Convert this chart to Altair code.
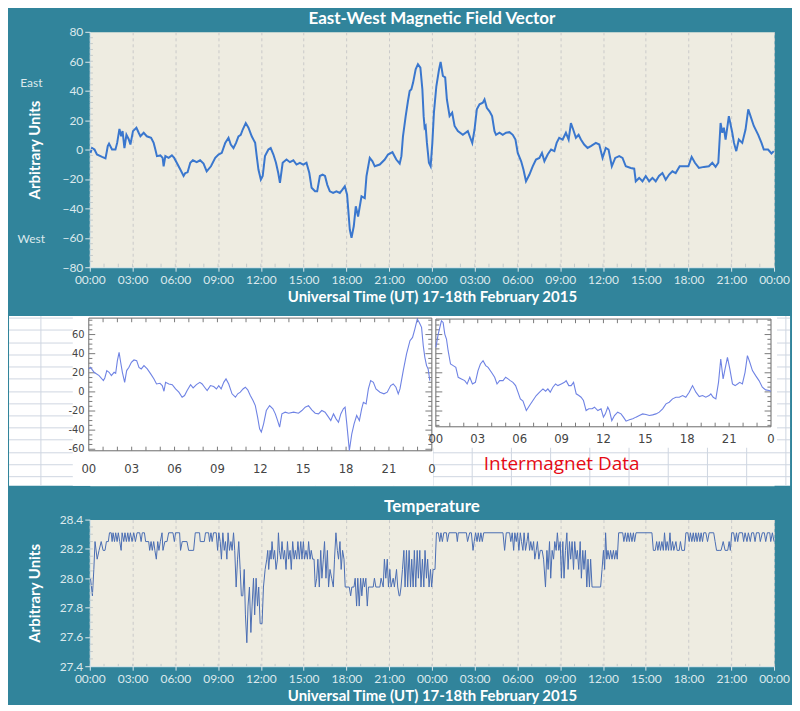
import altair as alt
import pandas as pd

# ------------------------------------------------------------------ data
# East-West magnetic field (hours from 00:00 UT 17 Feb, arbitrary units)
mag_day17 = [
    (0.05, -2.3), (0.16, 1), (0.33, 0), (0.5, -3.4), (0.86, -5), (1.1, -6), (1.2, -1), (1.26, 2.3),
    (1.35, 4), (1.56, 0), (1.8, 0), (1.92, 4.5), (2.08, 14), (2.2, 9), (2.3, 12.5), (2.43, 1),
    (2.57, 10), (2.73, 7), (2.85, 3.4), (3.03, 12.5), (3.27, 14.8), (3.43, 11.4), (3.55, 9),
    (3.78, 11.4), (4.0, 9), (4.3, 8), (4.48, 4.5), (4.6, 0), (4.71, -4.5), (4.95, -4), (5.11, -5.7),
    (5.18, -11.4), (5.3, -4.5), (5.53, -5.7), (5.76, -4), (5.92, -5.7), (6.1, -9), (6.35, -13.6),
    (6.58, -18), (6.7, -16), (6.86, -15.5), (7.05, -9), (7.23, -7.3), (7.5, -8.6), (7.74, -7.3),
    (7.98, -9.5), (8.2, -14.8), (8.5, -11.4), (8.8, -5.7), (9.03, -3.4), (9.26, -2.3), (9.5, 4.5),
    (9.73, 8), (9.89, 3.4), (10.08, 1), (10.26, 4.5), (10.43, 9), (10.59, 10), (10.73, 13.6),
    (10.94, 18), (11.13, 14.8), (11.36, 9), (11.6, 4.5), (11.71, -4.5), (11.83, -13.6), (12.0, -20.5),
    (12.13, -18), (12.29, -4.5), (12.53, 0), (12.69, 1), (12.88, -3.4), (13.06, -9), (13.22, -16),
    (13.34, -22.7), (13.53, -9), (13.8, -6.8), (14.04, -8.6), (14.28, -7.3), (14.5, -10.2),
    (14.74, -9), (14.97, -10.2), (15.2, -9), (15.4, -16), (15.56, -26), (15.8, -28.4), (15.95, -28.4),
    (16.14, -18), (16.33, -17), (16.5, -18), (16.66, -24), (16.84, -28.4), (17.07, -29.5),
    (17.3, -28.4), (17.54, -29.5), (17.72, -27.3), (17.89, -25), (18.05, -30.7), (18.24, -54.5),
    (18.36, -60), (18.52, -52), (18.66, -38.6), (18.82, -45.5), (19.06, -31.8), (19.29, -33),
    (19.41, -18), (19.64, -5.7), (19.83, -8), (19.99, -11.4), (20.34, -10.2), (20.69, -6.8),
    (20.92, -3.4), (21.23, -1.8), (21.5, -6.8), (21.74, -9.5), (21.86, -4.5), (21.97, 9),
    (22.16, 22.7), (22.32, 33), (22.44, 39.8), (22.56, 41), (22.68, 45.5), (22.86, 54.5),
    (23.02, 58), (23.19, 55.7), (23.33, 41), (23.42, 22.7), (23.49, 14.8), (23.56, 15.9),
    (23.65, 4.5), (23.79, -9), (23.91, -11.4),
]
mag_day18 = [
    (24.03, 4.5), (24.14, 25), (24.31, 43), (24.5, 54.5), (24.61, 59.5), (24.77, 50), (24.93, 49),
    (25.05, 34), (25.24, 22.7), (25.42, 25), (25.59, 16), (25.82, 12.5), (26.17, 10), (26.52, 12.5),
    (26.69, 8), (26.83, 4.5), (26.99, 13.6), (27.15, 27.3), (27.34, 30.7), (27.57, 31.8),
    (27.69, 34), (27.85, 28.4), (28.04, 26), (28.22, 22.7), (28.39, 12.5), (28.5, 10),
    (28.74, 11.4), (28.97, 10), (29.2, 11.4), (29.44, 11.8), (29.67, 10), (29.86, 6.8),
    (30.02, -2.3), (30.26, -8), (30.42, -13.6), (30.6, -21.6), (30.84, -17), (31.07, -11.4),
    (31.3, -6.8), (31.54, -5.7), (31.72, -2.3), (31.89, -8), (32.12, -3.4), (32.36, 0),
    (32.59, -1.1), (32.75, 4.5), (32.93, 8), (33.17, 6.8), (33.4, 11.4), (33.59, 6.8), (33.75, 18),
    (33.91, 13.6), (34.1, 8), (34.29, 10), (34.45, 6.8), (34.68, 3.4), (34.92, 1.1), (35.15, 2.3),
    (35.5, 4.5), (35.74, 3.4), (35.97, -5.7), (36.2, 1.1), (36.39, 0), (36.62, -11.4),
    (36.86, -5.7), (37.14, -4.5), (37.37, -5.7), (37.6, -11.4), (37.95, -12.5), (38.19, -13),
    (38.3, -21.6), (38.54, -19.3), (38.77, -21.6), (39.0, -18), (39.24, -21.6), (39.47, -19.3),
    (39.7, -21.6), (39.93, -18), (40.17, -16), (40.4, -20.5), (40.64, -17), (40.87, -14.8),
    (41.1, -16), (41.38, -11.4), (41.68, -11.4), (41.99, -11.4), (42.22, -5), (42.45, -9),
    (42.73, -12.5), (43.08, -11.8), (43.43, -11.4), (43.67, -9), (43.9, -11.8), (44.09, -9),
    (44.25, 18), (44.37, 11.4), (44.48, 14.8), (44.6, 6.8), (44.83, 22.7), (45.07, 11.4),
    (45.19, 4.5), (45.35, -1.1), (45.53, 6.8), (45.77, 4.5), (46.0, 13.6), (46.19, 27.3),
    (46.35, 22.7), (46.58, 16), (46.89, 10), (47.12, 4.5), (47.28, 0), (47.58, 0), (47.82, -2.7),
    (47.98, -1.1),
]

# Temperature (minutes from 00:00 UT 17 Feb, value)
temp_day17 = [
    (3, 28.00), (7, 27.94), (11, 27.88), (17, 28.06), (22, 28.25), (31, 28.13), (39, 28.19),
    (48, 28.25), (56, 28.19), (64, 28.19), (70, 28.25), (78, 28.25), (83, 28.31), (90, 28.31),
    (94, 28.25), (98, 28.31), (104, 28.25), (109, 28.31), (115, 28.25), (120, 28.31), (126, 28.25),
    (132, 28.19), (136, 28.31), (143, 28.25), (148, 28.31), (154, 28.25), (160, 28.31),
    (165, 28.25), (171, 28.31), (178, 28.25), (185, 28.31), (192, 28.25), (199, 28.31),
    (210, 28.31), (216, 28.25), (221, 28.31), (230, 28.31), (235, 28.25), (248, 28.25),
    (252, 28.19), (258, 28.25), (263, 28.19), (269, 28.25), (274, 28.19), (280, 28.13),
    (286, 28.25), (291, 28.19), (297, 28.25), (304, 28.31), (308, 28.19), (316, 28.25),
    (325, 28.25), (332, 28.31), (350, 28.31), (356, 28.25), (361, 28.31), (378, 28.31),
    (382, 28.19), (389, 28.25), (409, 28.25), (416, 28.19), (437, 28.19), (444, 28.31),
    (462, 28.31), (465, 28.25), (482, 28.25), (487, 28.31), (500, 28.31), (504, 28.25),
    (510, 28.31), (515, 28.25), (521, 28.31), (532, 28.31), (538, 28.19), (543, 28.31),
    (549, 28.25), (554, 28.13), (560, 28.31), (566, 28.19), (571, 28.25), (577, 28.13),
    (582, 28.31), (588, 28.19), (594, 28.25), (599, 28.19), (605, 28.31), (610, 28.19),
    (616, 27.94), (622, 28.13), (627, 28.25), (633, 28.06), (638, 27.88), (644, 27.88),
    (650, 28.06), (655, 27.75), (661, 27.56), (666, 27.81), (672, 27.94), (678, 27.63),
    (683, 27.81), (689, 28.00), (694, 27.75), (700, 28.00), (706, 27.81), (711, 27.94),
    (717, 27.69), (725, 27.69), (731, 27.94), (738, 28.06), (745, 28.13), (749, 28.19),
    (753, 28.06), (759, 28.19), (763, 28.13), (767, 28.25), (773, 28.13), (778, 28.19),
    (784, 28.06), (790, 28.13), (794, 28.31), (798, 28.19), (804, 28.13), (809, 28.25),
    (815, 28.13), (820, 28.19), (826, 28.06), (832, 28.25), (837, 28.13), (843, 28.19),
    (848, 28.06), (854, 28.25), (860, 28.13), (865, 28.19), (871, 28.13), (876, 28.25),
    (882, 28.13), (888, 28.25), (893, 28.13), (899, 28.25), (904, 28.13), (910, 28.19),
    (916, 28.13), (921, 28.25), (927, 28.13), (932, 28.19), (938, 28.13), (944, 28.13),
    (949, 27.94), (955, 28.00), (960, 28.13), (966, 27.94), (972, 28.19), (977, 28.00),
    (983, 28.13), (988, 28.25), (994, 28.00), (1000, 28.19), (1005, 27.94), (1011, 28.06),
    (1018, 28.00), (1025, 27.94), (1030, 28.13), (1036, 28.31), (1042, 28.19), (1047, 28.13),
    (1053, 28.25), (1058, 28.06), (1064, 28.19), (1070, 28.13), (1075, 27.94), (1092, 27.94),
    (1098, 27.88), (1103, 27.94), (1112, 27.94), (1117, 28.00), (1123, 27.81), (1128, 28.00),
    (1134, 27.81), (1140, 28.00), (1145, 27.88), (1151, 28.00), (1156, 27.94), (1162, 28.00),
    (1168, 27.81), (1173, 27.94), (1193, 27.94), (1198, 28.00), (1204, 27.94), (1221, 27.94),
    (1226, 28.00), (1235, 27.94), (1240, 28.13), (1246, 28.00), (1252, 28.13), (1257, 27.94),
    (1263, 28.06), (1268, 27.94), (1277, 28.00), (1282, 27.94), (1291, 28.06), (1296, 27.94),
    (1302, 27.88),
]
temp_day18 = [
    (1305, 27.88), (1310, 27.94), (1316, 28.06), (1322, 28.19), (1327, 27.94), (1333, 28.19),
    (1338, 27.94), (1344, 28.19), (1350, 27.94), (1355, 28.13), (1361, 27.94), (1366, 28.19),
    (1372, 27.94), (1378, 28.19), (1383, 28.00), (1389, 28.19), (1394, 27.94), (1400, 28.13),
    (1406, 27.94), (1411, 28.19), (1417, 28.00), (1422, 28.13), (1428, 27.94), (1434, 28.06),
    (1439, 27.94), (1445, 28.06), (1453, 28.06), (1459, 28.31), (1467, 28.31), (1473, 28.25),
    (1478, 28.31), (1484, 28.25), (1490, 28.31), (1501, 28.31), (1505, 28.25), (1512, 28.31),
    (1543, 28.31), (1547, 28.25), (1551, 28.31), (1585, 28.31), (1590, 28.25), (1599, 28.31),
    (1606, 28.31), (1613, 28.19), (1618, 28.25), (1624, 28.31), (1630, 28.25), (1635, 28.31),
    (1641, 28.25), (1646, 28.31), (1652, 28.25), (1658, 28.31), (1739, 28.31), (1746, 28.19),
    (1753, 28.31), (1767, 28.31), (1772, 28.25), (1778, 28.31), (1784, 28.19), (1789, 28.31),
    (1795, 28.25), (1800, 28.31), (1806, 28.19), (1812, 28.31), (1817, 28.25), (1823, 28.19),
    (1828, 28.31), (1834, 28.19), (1840, 28.25), (1845, 28.31), (1851, 28.19), (1856, 28.25),
    (1862, 28.19), (1868, 28.25), (1873, 28.13), (1879, 28.19), (1884, 28.25), (1890, 28.13),
    (1896, 28.19), (1904, 28.19), (1910, 28.13), (1918, 27.94), (1924, 28.19), (1929, 28.06),
    (1935, 28.25), (1940, 28.00), (1946, 28.19), (1952, 28.13), (1957, 28.25), (1963, 28.19),
    (1968, 28.31), (1974, 28.19), (1980, 28.25), (1985, 28.00), (1991, 28.25), (1996, 28.00),
    (2002, 28.19), (2008, 28.31), (2013, 28.06), (2019, 28.25), (2024, 28.13), (2030, 28.25),
    (2036, 28.06), (2041, 28.25), (2047, 28.13), (2052, 28.19), (2058, 28.06), (2064, 28.25),
    (2069, 28.00), (2075, 28.19), (2080, 28.06), (2086, 28.19), (2092, 27.94), (2097, 28.13),
    (2103, 27.94), (2108, 28.13), (2114, 27.94), (2150, 27.94), (2156, 28.06), (2162, 28.19),
    (2167, 28.06), (2171, 28.31), (2176, 28.13), (2181, 28.19), (2187, 28.13), (2192, 28.19),
    (2198, 28.13), (2204, 28.19), (2209, 28.13), (2215, 28.19), (2220, 28.13), (2226, 28.31),
    (2243, 28.31), (2248, 28.25), (2254, 28.31), (2260, 28.25), (2265, 28.31), (2271, 28.25),
    (2276, 28.31), (2282, 28.25), (2288, 28.31), (2293, 28.25), (2299, 28.31), (2366, 28.31),
    (2372, 28.19), (2380, 28.19), (2386, 28.25), (2391, 28.19), (2397, 28.25), (2402, 28.19),
    (2408, 28.25), (2414, 28.19), (2419, 28.31), (2425, 28.19), (2430, 28.25), (2436, 28.19),
    (2442, 28.31), (2447, 28.19), (2453, 28.25), (2458, 28.19), (2467, 28.25), (2472, 28.19),
    (2481, 28.19), (2486, 28.25), (2492, 28.19), (2503, 28.19), (2509, 28.31), (2517, 28.31),
    (2523, 28.25), (2528, 28.31), (2534, 28.25), (2540, 28.31), (2545, 28.25), (2551, 28.31),
    (2556, 28.25), (2562, 28.31), (2568, 28.25), (2573, 28.31), (2579, 28.25), (2584, 28.31),
    (2593, 28.31), (2600, 28.25), (2607, 28.31), (2626, 28.31), (2632, 28.25), (2638, 28.19),
    (2649, 28.19), (2657, 28.19), (2666, 28.25), (2674, 28.19), (2685, 28.19), (2691, 28.25),
    (2696, 28.19), (2702, 28.31), (2710, 28.31), (2716, 28.25), (2722, 28.31), (2727, 28.25),
    (2733, 28.31), (2747, 28.31), (2752, 28.25), (2758, 28.31), (2766, 28.25), (2772, 28.31),
    (2780, 28.25), (2786, 28.31), (2794, 28.31), (2800, 28.25), (2806, 28.31), (2817, 28.31),
    (2822, 28.25), (2831, 28.31), (2839, 28.31), (2845, 28.25), (2852, 28.31), (2862, 28.31),
    (2866, 28.25), (2873, 28.31), (2880, 28.25),
]

# Intermagnet reference plots (hour of day, value)
im_day17 = [
    (0, 24), (0.12, 25.7), (0.37, 20.5), (0.72, 17), (1.02, 11.8), (1.12, 14.6), (1.26, 22.3),
    (1.42, 20.5), (1.58, 17), (1.77, 20.5), (1.88, 19.5), (2.0, 32.7), (2.12, 41.4), (2.23, 31),
    (2.35, 20.5), (2.51, 10), (2.65, 22.3), (2.81, 25.7), (2.98, 31), (3.16, 33.4), (3.35, 32.7),
    (3.51, 25.7), (3.67, 24), (3.86, 27.5), (4.09, 24), (4.33, 18.8), (4.56, 13.6), (4.74, 8.3),
    (4.98, 9), (5.14, 6.6), (5.26, 0.7), (5.37, 10), (5.6, 8.3), (5.84, 7.6), (6.07, 3.1),
    (6.3, -0.3), (6.53, -5.6), (6.7, -3.8), (6.88, 1.4), (7.12, 7.6), (7.3, 4.2), (7.53, 7.6),
    (7.77, 10), (7.93, 8.3), (8.1, 4.9), (8.28, 1.4), (8.51, 6.6), (8.74, 5.6), (8.93, 3.1),
    (9.09, 6.6), (9.26, 3.1), (9.44, 10), (9.6, 13.6), (9.79, 8.3), (10.02, -2), (10.26, -5.6),
    (10.42, -2), (10.6, -0.3), (10.79, 3.1), (10.95, 4.9), (11.12, 2.1), (11.3, -3.8),
    (11.49, -9), (11.65, -14.3), (11.81, -26.4), (11.95, -38.6), (12.07, -42), (12.23, -33.4),
    (12.42, -19.5), (12.65, -14.3), (12.88, -17.7), (13.05, -23), (13.21, -30), (13.35, -36.9),
    (13.51, -23), (13.74, -21.2), (13.98, -22.3), (14.33, -21.2), (14.67, -22.3), (14.91, -19.5),
    (15.14, -16), (15.37, -14.3), (15.6, -18.8), (15.84, -22.3), (16.07, -23), (16.3, -19.5),
    (16.53, -21.2), (16.77, -26.4), (16.93, -30), (17.12, -23), (17.3, -28.2), (17.47, -31.7),
    (17.63, -23), (17.81, -17.7), (17.93, -16), (18.05, -33.4), (18.23, -61.2), (18.4, -43.8),
    (18.56, -33.4), (18.74, -24.7), (18.93, -30), (19.09, -17.7), (19.21, -10.8), (19.4, -12.5),
    (19.56, 3.1), (19.72, 11.8), (19.91, 10), (20.09, 3.1), (20.37, -0.3), (20.65, -2),
    (20.88, -0.3), (21.12, 6.6), (21.3, 8.3), (21.49, 4.9), (21.65, -2), (21.77, 3.1),
    (22.0, 22.3), (22.23, 39.7), (22.47, 53.6), (22.65, 57), (22.81, 65.7), (22.98, 76.2),
    (23.12, 72.7), (23.28, 67.5), (23.4, 48.3), (23.51, 36.2), (23.63, 27.5), (23.74, 24),
    (23.86, 11.8),
]
im_day18 = [
    (0, 46.6), (0.17, 60.5), (0.4, 74.4), (0.52, 72.7), (0.64, 60.5), (0.76, 55.3), (0.88, 43.1),
    (1.05, 29.2), (1.24, 27.5), (1.43, 25.7), (1.6, 15.3), (1.83, 13.6), (2.07, 11.8), (2.24, 8.3),
    (2.43, 15.3), (2.62, 8.3), (2.83, 10), (3.02, 22.3), (3.19, 29.2), (3.38, 32.7), (3.57, 27.5),
    (3.74, 25.7), (3.98, 20.5), (4.21, 15.3), (4.38, 8.3), (4.57, 11.8), (4.81, 11.8), (5.0, 15.3),
    (5.17, 13.6), (5.33, 11.8), (5.52, 10), (5.71, 6.6), (5.88, -0.3), (6.05, -7.3), (6.24, -9.7),
    (6.48, -19.5), (6.71, -14.3), (6.95, -9), (7.19, -3.8), (7.43, -0.3), (7.67, 3.1), (7.86, 0.7),
    (8.02, 3.1), (8.19, -0.3), (8.38, 4.9), (8.57, 8.3), (8.74, 6.6), (8.98, 8.3), (9.21, 10),
    (9.33, 11.8), (9.52, 6.6), (9.69, 6.6), (9.86, 10), (10.05, -2), (10.24, -3.8), (10.4, -5.6),
    (10.57, -9), (10.76, -19.5), (10.95, -17.7), (11.19, -17.7), (11.36, -16), (11.6, -19.5),
    (11.83, -17.7), (12.0, -26.4), (12.14, -23), (12.31, -16), (12.43, -19.5), (12.6, -30),
    (12.79, -24.7), (13.02, -21.2), (13.26, -23), (13.43, -26.4), (13.62, -30.6), (13.86, -29.2),
    (14.1, -28.2), (14.33, -26.4), (14.57, -24.7), (14.81, -23), (15.05, -23.7), (15.29, -24.7),
    (15.52, -24), (15.76, -23), (16.0, -21.2), (16.24, -17.7), (16.48, -12.5), (16.71, -10.8),
    (16.95, -7.3), (17.19, -5.6), (17.43, -5.6), (17.67, -3.8), (17.9, -5.6), (18.14, -0.3),
    (18.38, 6.6), (18.62, -0.3), (18.86, -4.9), (19.1, -3.8), (19.33, -5.6), (19.57, -3.8),
    (19.69, -2), (19.86, -5.6), (20.05, -7.3), (20.24, 10), (20.4, 34.4), (20.57, 13.6),
    (20.71, 24), (20.88, 36.2), (21.05, 24), (21.24, 8.3), (21.43, 6.6), (21.6, 8.3), (21.76, 10),
    (21.95, 8.3), (22.14, 20.5), (22.31, 37.9), (22.48, 31), (22.67, 22.3), (22.9, 17),
    (23.14, 11.8), (23.38, 4.9), (23.62, 2.1), (23.86, 1.4), (24.0, 0.7),
]

hour_ticks = list(range(0, 49, 3))
mag_ticks = list(range(-80, 81, 20))
temp_ticks = [27.4, 27.6, 27.8, 28.0, 28.2, 28.4]
im_y_labels = [60, 40, 20, 0, -20, -40, -60]
im_x_hours = [0, 3, 6, 9, 12, 15, 18, 21, 24]
im_x_text = ["00", "03", "06", "09", "12", "15", "18", "21", "0"]

TITLE_TOP = "East-West Magnetic Field Vector"
TITLE_BOT = "Temperature"
X_TITLE = "Universal Time (UT)  17-18th February 2015"
Y_TITLE = "Arbitrary Units"
NOTE = "Intermagnet Data"

# ------------------------------------------------------------------ style
TEAL = "#31849B"
BEIGE = "#EEECE1"
PALE = "#DCE9ED"
FONT = "Lato"
NARROW = "Liberation Sans Narrow, DejaVu Sans Condensed, Arial Narrow, sans-serif"
W = 686

label_expr = "(datum.value % 24 < 10 ? '0' : '') + (datum.value % 24) + ':00'"


def x_axis():
    return alt.Axis(values=hour_ticks, labelExpr=label_expr, title=X_TITLE, grid=True,
                    gridDash=[3, 3], gridColor="#CACACA", tickSize=4, labelPadding=3,
                    titlePadding=4, labelFlush=False)


def rules(df, color, xs, ys, xaxis=None, yaxis=None, width=1):
    return alt.Chart(df).mark_rule(color=color, strokeWidth=width).encode(
        x=alt.X("h:Q", scale=xs, axis=xaxis), x2="h2",
        y=alt.Y("v:Q", scale=ys, axis=yaxis), y2="v2")


def tick_df(rows):
    return pd.DataFrame(rows, columns=["h", "h2", "v", "v2"])


# ------------------------------------------------------------------ top chart
mag_df = pd.DataFrame(mag_day17 + mag_day18, columns=["h", "v"])
xs_top = alt.Scale(domain=[0, 48], nice=False, zero=False)
ys_top = alt.Scale(domain=[-80, 80], nice=False, zero=False)
y_axis_top = alt.Axis(values=mag_ticks, title=Y_TITLE, grid=False, tickSize=5, titlePadding=20)

top_line = alt.Chart(mag_df).mark_line(color="#3A77CE", strokeWidth=2).encode(
    x=alt.X("h:Q", scale=xs_top, axis=x_axis()),
    y=alt.Y("v:Q", scale=ys_top, axis=y_axis_top))

top_minor = tick_df([(h, h, -80, -77.6) for h in range(1, 48)] +
                    [(0, 0.22, v, v) for v in range(-76, 80, 4)])
top_ticks = rules(top_minor, "#C4CBCC", xs_top, ys_top, x_axis(), y_axis_top)

ew_df = pd.DataFrame({"h": [-4.1, -4.1], "v": [45.5, -60.5], "t": ["East", "West"]})
top_ew = alt.Chart(ew_df).mark_text(font=FONT, fontSize=12, color=PALE).encode(
    x=alt.X("h:Q", scale=xs_top, axis=x_axis()),
    y=alt.Y("v:Q", scale=ys_top, axis=y_axis_top), text="t:N")

top = alt.layer(top_line, top_ticks, top_ew).properties(
    width=W, height=236, title=alt.TitleParams(TITLE_TOP))

# ------------------------------------------------------------------ middle band
mid_x = alt.Scale(domain=[0.07, 47.94], nice=False, zero=False)
mid_y = alt.Scale(domain=[-98.1, 79.3], nice=False, zero=False)
P2_X0, P2_K = 24.28, 0.977   # placement of the second (18 Feb) plot


def p2(h):
    return P2_X0 + P2_K * h


def mrules(df, color, width=1):
    return rules(df, color, mid_x, mid_y, None, None, width)


def mrect(df, **kw):
    return alt.Chart(df).mark_rect(**kw).encode(
        x=alt.X("h:Q", scale=mid_x, axis=None), x2="h2",
        y=alt.Y("v:Q", scale=mid_y, axis=None), y2="v2")


def mtext(df, **kw):
    return alt.Chart(df).mark_text(**kw).encode(
        x=alt.X("h:Q", scale=mid_x, axis=None),
        y=alt.Y("v:Q", scale=mid_y, axis=None), text="t:N")


band = mrect(tick_df([(-5.58, 49.06, -98.1, 79.3)]), color="white")
sheet_rows = [77.2, 64.7, 51.1, 38.6, 26.1, 13.6, 0, -12.5, -25.1, -37.6, -50.1, -63.7, -76.2, -88.7]
sheet_cols = [-3.35 + 2.743 * i for i in range(20)]
sheet = mrules(tick_df([(-5.58, 49.06, r, r) for r in sheet_rows] +
                       [(c, c, -98.1, 79.3) for c in sheet_cols]), "#CFD6E1")
masks = mrect(tick_df([(-1.12, 24.08, -98.1, 79.3), (24.08, 48.15, -58.5, 79.3)]), color="white")

frames = alt.Chart(tick_df([(0, 24, -61.6, 77.2), (p2(0), p2(24), -36.5, 76.2)])).mark_rect(
    fill="transparent", stroke="#6B6B6B", strokeWidth=1).encode(
    x=alt.X("h:Q", scale=mid_x, axis=None), x2="h2",
    y=alt.Y("v:Q", scale=mid_y, axis=None), y2="v2")

frame_ticks = []
for h in range(1, 24):
    frame_ticks += [(h, h, 77.2, 72.9), (h, h, -61.6, -57.3),
                    (p2(h), p2(h), 76.2, 71.9), (p2(h), p2(h), -36.5, -32.2)]
for v in range(-60, 76, 5):
    d = 0.45 if v % 20 == 0 else 0.25
    frame_ticks += [(0, d, v, v), (24 - d, 24, v, v)]
for v in range(-35, 76, 5):
    d = 0.45 if v % 20 == 0 else 0.25
    frame_ticks += [(p2(0), p2(0) + d, v, v), (p2(24) - d, p2(24), v, v)]
fticks = mrules(tick_df(frame_ticks), "#7A7A7A")

im1_df = pd.DataFrame(im_day17, columns=["h", "v"])
im2_df = pd.DataFrame(im_day18, columns=["hd", "v"])
im2_df["h"] = p2(im2_df["hd"])
im_line1 = alt.Chart(im1_df).mark_line(color="#6F83E4", strokeWidth=1.1).encode(
    x=alt.X("h:Q", scale=mid_x, axis=None), y=alt.Y("v:Q", scale=mid_y, axis=None))
im_line2 = alt.Chart(im2_df).mark_line(color="#6F83E4", strokeWidth=1.1).encode(
    x=alt.X("h:Q", scale=mid_x, axis=None), y=alt.Y("v:Q", scale=mid_y, axis=None))

ylab_df = pd.DataFrame({"h": [-0.3] * len(im_y_labels), "v": im_y_labels,
                        "t": [str(v) for v in im_y_labels]})
ylab = mtext(ylab_df, font=NARROW, fontSize=11, color="#444444", align="right", baseline="middle")
xlab1_df = pd.DataFrame({"h": im_x_hours, "v": [-80.4] * 9, "t": im_x_text})
xlab2_df = pd.DataFrame({"h": [p2(h) for h in im_x_hours], "v": [-49.3] * 9, "t": im_x_text})
xlab1 = mtext(xlab1_df, font=NARROW, fontSize=13, color="#444444", baseline="middle")
xlab2 = mtext(xlab2_df, font=NARROW, fontSize=13, color="#444444", baseline="middle")
note = mtext(pd.DataFrame({"h": [33.08], "v": [-75.2], "t": [NOTE]}),
             font="Open Sans", fontSize=19, color="#E50A14", baseline="middle")

mid = alt.layer(band, sheet, masks, frames, fticks, im_line1, im_line2,
                ylab, xlab1, xlab2, note).properties(width=W, height=170)

# ------------------------------------------------------------------ bottom chart
temp_df = pd.DataFrame(temp_day17 + temp_day18, columns=["m", "v"])
temp_df["h"] = temp_df["m"] / 60.0
ys_bot = alt.Scale(domain=[27.4, 28.4], nice=False, zero=False)
y_axis_bot = alt.Axis(values=temp_ticks, format=".1f", title=Y_TITLE, grid=False,
                      tickSize=5, titlePadding=17)

bot_line = alt.Chart(temp_df).mark_line(color="#4A6DB3", strokeWidth=1).encode(
    x=alt.X("h:Q", scale=xs_top, axis=x_axis()),
    y=alt.Y("v:Q", scale=ys_bot, axis=y_axis_bot))
bot_minor = tick_df([(h, h, 27.4, 27.416) for h in range(1, 48)] +
                    [(0, 0.22, v / 100, v / 100) for v in range(2745, 2840, 5)])
bot_ticks = rules(bot_minor, "#C4CBCC", xs_top, ys_bot, x_axis(), y_axis_bot)

bot = alt.layer(bot_line, bot_ticks).properties(
    width=W, height=147, title=alt.TitleParams(TITLE_BOT))

# ------------------------------------------------------------------ assemble
chart = alt.vconcat(top, mid, bot, spacing=10).properties(
    background=TEAL, padding=0
).configure_view(fill=BEIGE, stroke="transparent").configure_axis(
    labelFont=FONT, labelFontSize=12, labelColor=PALE,
    titleFont=FONT, titleFontSize=15, titleFontWeight="bold", titleColor="white",
    domainColor=PALE, tickColor=PALE
).configure_title(font=FONT, fontSize=17, fontWeight="bold", color="white",
                  anchor="middle", offset=-2)

chart.save("out.html", embed_options={"renderer": "svg", "actions": False})
